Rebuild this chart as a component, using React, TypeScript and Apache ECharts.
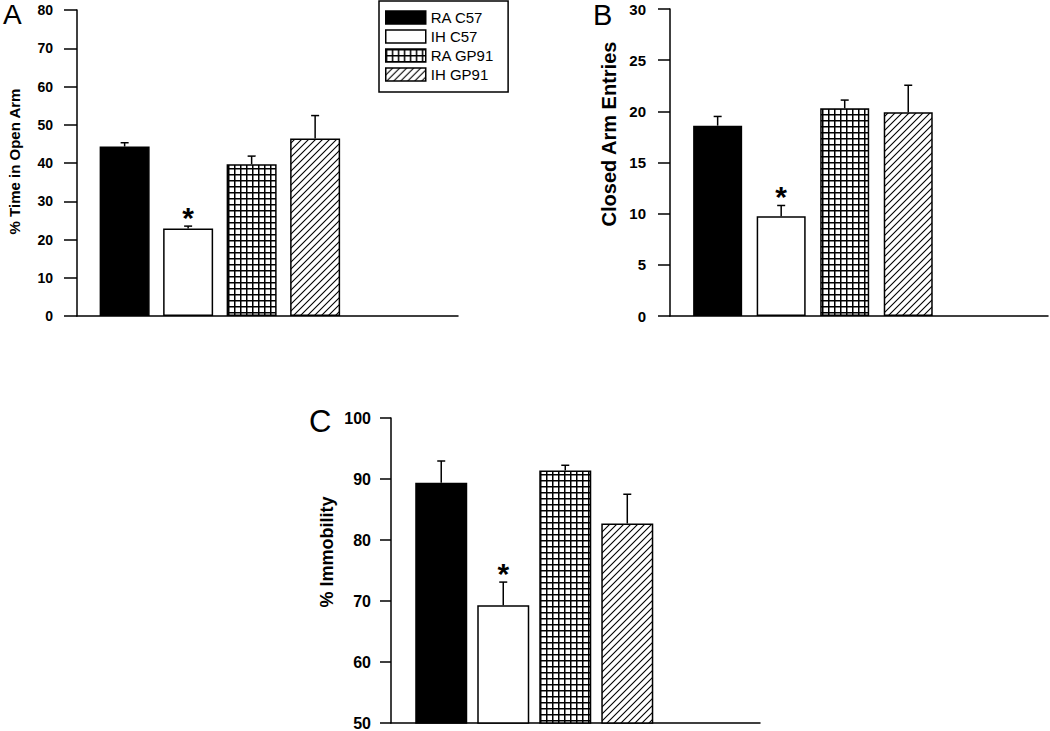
import React, { useEffect, useRef } from 'react';
import * as echarts from 'echarts';

// ---- data ----
const groups = ['RA C57', 'IH C57', 'RA GP91', 'IH GP91'];
const openArmTime = [44.3, 22.9, 39.7, 46.4];
const openArmErr = [1.0, 0.6, 2.1, 6.0];
const closedArmEntries = [18.6, 9.75, 20.3, 19.9];
const closedArmErr = [0.9, 1.05, 0.8, 2.65];
const immobility = [89.4, 69.3, 91.4, 82.7];
const immobilityErr = [3.55, 3.8, 0.85, 4.8];
const significant = [false, true, false, false];

const titleA = '% Time in Open Arm';
const titleB = 'Closed Arm Entries';
const titleC = '% Immobility';
const yRangeA = { min: 0, max: 80, interval: 10 };
const yRangeB = { min: 0, max: 30, interval: 5 };
const yRangeC = { min: 50, max: 100, interval: 10 };

const FONT = 'Arial, "Liberation Sans", Helvetica, sans-serif';

function makeCross(): HTMLCanvasElement {
  const c = document.createElement('canvas');
  c.width = 6; c.height = 6;
  const g = c.getContext('2d')!;
  g.fillStyle = '#fff'; g.fillRect(0, 0, 6, 6);
  g.fillStyle = '#000';
  g.fillRect(0, 0, 6, 1.5);
  g.fillRect(0, 0, 1.5, 6);
  return c;
}
function makeDiag(): HTMLCanvasElement {
  const s = 7;
  const c = document.createElement('canvas');
  c.width = s; c.height = s;
  const g = c.getContext('2d')!;
  g.fillStyle = '#fff'; g.fillRect(0, 0, s, s);
  g.strokeStyle = '#000'; g.lineWidth = 1.1;
  g.beginPath();
  g.moveTo(-1, s + 1); g.lineTo(s + 1, -1);
  g.moveTo(-1, 1); g.lineTo(1, -1);
  g.moveTo(s - 1, s + 1); g.lineTo(s + 1, s - 1);
  g.stroke();
  return c;
}

const panels = [
  { values: openArmTime, errs: openArmErr, y: yRangeA, grid: { left: 77, top: 10, width: 381, height: 306 }, xMax: 6, offset: 0.75, barWidth: 50, tickLen: 13, labelSize: 14, labelGap: 11 },
  { values: closedArmEntries, errs: closedArmErr, y: yRangeB, grid: { left: 670, top: 9, width: 378, height: 307 }, xMax: 5.95, offset: 0.75, barWidth: 49, tickLen: 12, labelSize: 15, labelGap: 12 },
  { values: immobility, errs: immobilityErr, y: yRangeC, grid: { left: 391, top: 418, width: 369, height: 306 }, xMax: 5.95, offset: 0.81, barWidth: 52, tickLen: 11, labelSize: 16, labelGap: 9 },
];

export default function App() {
  const ref = useRef<HTMLDivElement>(null);
  useEffect(() => {
    if (!ref.current) return;
    const chart = echarts.init(ref.current, undefined, { renderer: 'svg' });
    const fills: any[] = [
      '#000',
      '#fff',
      { image: makeCross(), repeat: 'repeat', imageWidth: 6, imageHeight: 6 },
      { image: makeDiag(), repeat: 'repeat', imageWidth: 7, imageHeight: 7 },
    ];
    const grid: any[] = [];
    const xAxis: any[] = [];
    const yAxis: any[] = [];
    const series: any[] = [];
    panels.forEach((p, pi) => {
      grid.push({ ...p.grid, containLabel: false });
      xAxis.push({
        type: 'value', gridIndex: pi, min: 0, max: p.xMax,
        axisLine: { show: true, lineStyle: { color: '#000', width: 1.5 } },
        axisTick: { show: false }, axisLabel: { show: false }, splitLine: { show: false },
      });
      yAxis.push({
        type: 'value', gridIndex: pi, min: p.y.min, max: p.y.max, interval: p.y.interval,
        axisLine: { show: true, lineStyle: { color: '#000', width: 1.5 } },
        axisTick: { show: true, inside: false, length: p.tickLen, lineStyle: { color: '#000', width: 1.5 } },
        axisLabel: { color: '#000', fontWeight: 'bold', fontSize: p.labelSize, fontFamily: FONT, margin: p.tickLen + p.labelGap },
        splitLine: { show: false },
      });
      groups.forEach((gname, gi) => {
        series.push({
          type: 'bar', name: gname, xAxisIndex: pi, yAxisIndex: pi,
          data: [[p.offset + gi, p.values[gi]]],
          barWidth: p.barWidth, barGap: '-100%',
          itemStyle: { color: fills[gi], borderColor: '#000', borderWidth: 1.5 },
          emphasis: { disabled: true },
          z: 2,
        });
      });
      series.push({
        type: 'custom', xAxisIndex: pi, yAxisIndex: pi, z: 3, silent: true,
        data: groups.map((_, gi) => [p.offset + gi, p.values[gi], p.errs[gi], significant[gi] ? 1 : 0]),
        renderItem: (params: any, api: any) => {
          const x = api.value(0), v = api.value(1), e = api.value(2), s = api.value(3);
          const p0 = api.coord([x, v]);
          const p1 = api.coord([x, v + e]);
          const children: any[] = [
            { type: 'line', shape: { x1: p0[0], y1: p0[1], x2: p1[0], y2: p1[1] }, style: { stroke: '#000', lineWidth: 1.5 } },
            { type: 'line', shape: { x1: p1[0] - 4, y1: p1[1], x2: p1[0] + 4, y2: p1[1] }, style: { stroke: '#000', lineWidth: 1.5 } },
          ];
          if (s) {
            children.push({ type: 'text', x: p1[0], y: p1[1] - 9, style: { text: '*', font: `bold 30px ${FONT}`, textAlign: 'center', textVerticalAlign: 'middle', fill: '#000' } });
          }
          return { type: 'group', children };
        },
      });
    });

    const option: any = {
      animation: false,
      backgroundColor: '#fff',
      grid, xAxis, yAxis, series,
      legend: {
        data: groups, left: 379, top: 1, orient: 'vertical',
        padding: [9, 14, 10, 6], borderColor: '#000', borderWidth: 1.5,
        itemWidth: 40, itemHeight: 13, itemGap: 4, icon: 'rect', selectedMode: false,
        itemStyle: { borderColor: '#000', borderWidth: 1.5 },
        textStyle: { fontSize: 15, color: '#000', fontFamily: FONT },
      },
      graphic: [
        { type: 'text', x: 3, y: 0, style: { text: 'A', font: `28px ${FONT}`, fill: '#000', textVerticalAlign: 'top' } },
        { type: 'text', x: 593, y: 0, style: { text: 'B', font: `29px ${FONT}`, fill: '#000', textVerticalAlign: 'top' } },
        { type: 'text', x: 309, y: 406, style: { text: 'C', font: `31px ${FONT}`, fill: '#000', textVerticalAlign: 'top' } },
        { type: 'text', x: 14, y: 161.5, rotation: Math.PI / 2, style: { text: titleA, font: `bold 15px ${FONT}`, fill: '#000', textAlign: 'center', textVerticalAlign: 'middle' } },
        { type: 'text', x: 609, y: 134, rotation: Math.PI / 2, style: { text: titleB, font: `bold 20px ${FONT}`, fill: '#000', textAlign: 'center', textVerticalAlign: 'middle' } },
        { type: 'text', x: 327, y: 552, rotation: Math.PI / 2, style: { text: titleC, font: `bold 18px ${FONT}`, fill: '#000', textAlign: 'center', textVerticalAlign: 'middle' } },
      ],
    };
    chart.setOption(option);
    return () => chart.dispose();
  }, []);
  return <div ref={ref} style={{ position: 'absolute', left: 0, top: 0, width: 1050, height: 731 }} />;
}
